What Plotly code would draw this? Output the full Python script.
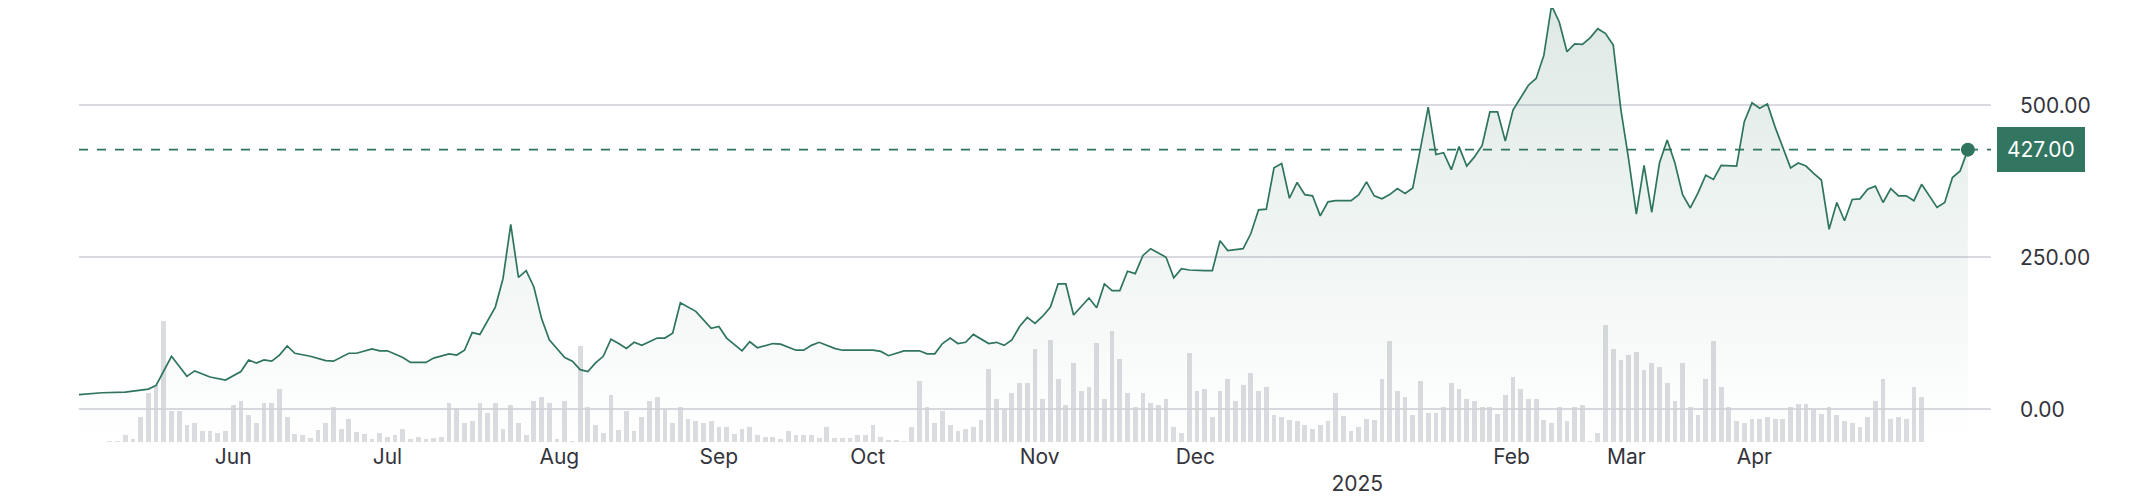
import plotly.graph_objects as go

# price line: trading-day index and close
line_day = [0, 3, 6, 9, 10, 12, 14, 15, 17, 19, 21, 22, 23, 24, 25, 26, 27, 28, 30, 32, 33, 35, 36, 38, 39, 40,
            42, 43, 45, 46, 48, 49, 50, 51, 52, 54, 55, 56, 57, 58, 59, 60, 61, 63, 64, 65, 66, 67, 68, 69, 70,
            71, 72, 73, 75, 76, 77, 78, 80, 82, 83, 84, 86, 87, 88, 90, 91, 93, 94, 95, 96, 98, 99, 101, 102,
            103, 104, 105, 107, 109, 110, 111, 112, 113, 114, 115, 116, 118, 119, 120, 121, 122, 123, 124, 125,
            126, 127, 128, 129,
            131, 132, 133, 134, 135, 136, 137, 138, 139, 141, 142, 143, 144, 146, 147, 148, 149, 151, 152, 153,
            154, 155, 156, 157, 158, 159, 160, 161, 162, 163, 165, 166, 167, 168, 169, 170, 171, 172, 173, 174,
            175, 176, 177, 178, 179, 180, 181, 182, 183, 184, 185, 186, 187, 188, 189, 190, 191, 192, 193, 194,
            195, 196, 197, 198, 199, 200, 201, 202, 203, 204, 205, 206, 207, 208, 209, 210, 211, 212, 213, 214,
            215, 216, 217, 218, 219, 220, 221, 222, 223, 224, 225, 226, 227, 228, 229, 230, 231, 232, 233, 234,
            235, 236, 237, 238, 239, 240, 241, 242, 243, 244, 245]
price = [24, 27, 28, 33, 39, 87, 54, 63, 53, 48, 62, 81, 76, 81, 79, 89, 104, 92, 87, 80, 79, 92, 92, 99, 96, 96,
         85, 77, 77, 84, 91, 89, 97, 126, 123, 168, 215, 304, 217, 228, 201, 149, 114, 85, 79, 65, 62, 76, 87, 115, 108,
         100, 110, 105, 117, 117, 125, 175, 161, 133, 136, 117, 96, 111, 101, 108, 107, 97, 97, 105, 110, 100, 97, 97, 96,
         97, 95, 88, 96, 96, 91, 91, 108, 117, 108, 110, 123, 108, 110, 105, 114, 136, 151, 141, 153,
         168, 206, 206, 155,
         183, 167, 206, 195, 195, 227, 223, 253, 264, 250, 216, 231, 229, 228, 228, 277, 261, 264, 289, 328,
         329, 397, 404, 347, 373, 353, 351, 318, 341, 343, 343, 353, 374, 351, 346, 353, 363, 355, 364, 429,
         497, 419, 422, 394, 432, 400, 415, 434, 489, 489, 441, 492, 513, 533, 544, 582, 664, 637, 588, 601,
         600, 611, 626, 618, 599, 492, 411, 321, 401, 324, 405, 443, 405, 353, 331, 356, 385, 378, 401, 400,
         400, 473, 504, 495, 502, 464, 430, 397, 405, 400, 388, 377, 296, 340, 310, 345, 346, 362, 367, 340,
         363, 351, 351, 343, 370, 351, 332, 340, 381, 392, 427]

# daily volume (relative units), first bar on day 4
volume = [3, 3, 20, 10, 75, 147, 170, 363, 93, 93, 50, 57, 33, 33, 28, 33, 110, 123, 80, 57, 117, 117, 159, 75,
          23, 20, 13, 37, 57, 105, 40, 70, 30, 25, 10, 27, 15, 20, 40, 10, 15, 10, 13, 15, 117, 103, 57, 63, 117, 87,
          117, 40, 110, 57, 20, 123, 135, 117, 10, 123, 3, 287, 105, 50, 28, 140, 35, 93, 33, 75, 123, 135, 97, 57,
          105, 70, 63, 57, 63, 45, 45, 23, 40, 45, 20, 15, 15, 10, 33, 20, 20, 20, 13, 45, 13, 13, 13, 20, 20, 50, 15,
          7, 7, 3, 45, 183, 105, 57, 93, 50, 33, 40, 45, 67, 220, 130, 97, 147, 177, 177, 280,
          130, 305, 190, 110, 237, 153, 165, 297, 130, 333, 250, 147, 105, 147, 117, 110, 130, 45, 27, 267, 153, 159,
          75, 153, 189, 123, 170, 207, 153, 165, 80, 75, 67, 63, 50, 40, 50, 63, 147, 79, 33, 45, 70, 67, 189, 303,
          153, 135, 80, 183, 87, 87, 105, 177, 159, 130, 123, 105, 105, 85, 140, 195, 159, 130, 130, 67, 57, 105, 63,
          105, 110, 3, 27, 350, 280, 245, 260, 270, 215, 237, 225, 177, 123, 237, 105, 80, 189, 303, 165, 105, 63, 57,
          70, 70, 75, 70, 70, 105, 115, 115, 100, 85, 105, 80, 63, 57, 45, 75, 123, 189, 70, 75, 70, 165, 135]
vol_day = list(range(4, 4 + len(volume)))

tick_days = [20, 40, 62.3, 83, 102.3, 124.6, 144.8, 165.8, 185.8, 200.7, 217.3]
tick_text = ["Jun", "Jul", "Aug", "Sep", "Oct", "Nov", "Dec", " <br>2025", "Feb", "Mar", "Apr"]

last_price = 427.00
green = "#2f745d"
ymin, ymax = -54, 660

fig = go.Figure()

# volume bars on the lower axis
fig.add_trace(go.Bar(x=vol_day, y=volume, yaxis="y", marker_color="rgba(205,208,214,0.75)",
                     marker_line_width=0, width=0.62, hoverinfo="skip"))

# fill under price line down to the plot floor
fig.add_trace(go.Scatter(x=line_day, y=[ymin] * len(line_day), yaxis="y2", mode="lines",
                         line=dict(width=0), hoverinfo="skip"))
fig.add_trace(go.Scatter(x=line_day, y=price, yaxis="y2", mode="lines", fill="tonexty",
                         fillgradient=dict(type="vertical",
                                           colorscale=[[0, "rgba(47,116,93,0.0)"], [1, "rgba(47,116,93,0.16)"]]),
                         line=dict(color=green, width=1.7), cliponaxis=False))
fig.add_trace(go.Scatter(x=[line_day[-1]], y=[price[-1]], yaxis="y2", mode="markers",
                         marker=dict(color=green, size=14), cliponaxis=False))

fig.add_shape(type="line", xref="paper", yref="y2", x0=0, x1=1, y0=last_price, y1=last_price,
              line=dict(color=green, width=1.7, dash="dash"))
fig.add_annotation(xref="paper", yref="y2", x=1.003, y=last_price, xanchor="left",
                   text=f"{last_price:.2f}", showarrow=False, bgcolor="#327560", bordercolor="#327560",
                   borderpad=9, font=dict(color="white", size=21))
# bottom of a cut-off tooltip at the top
fig.add_shape(type="rect", xref="paper", yref="paper", x0=0.2045, x1=0.272, y0=1.0, y1=1.06,
              fillcolor="#327560", line=dict(width=0))

fig.update_layout(
    width=2129, height=503, showlegend=False, bargap=0,
    paper_bgcolor="white", plot_bgcolor="white",
    margin=dict(l=71, r=146, t=0, b=69),
    font=dict(family="Inter, Open Sans, sans-serif", size=21, color="#34343c"),
    xaxis=dict(range=[0, 248], tickvals=tick_days, ticktext=tick_text, showgrid=False,
               zeroline=False, showline=False, ticks="", tickangle=0),
    yaxis=dict(range=[0, 1302], visible=False),
    yaxis2=dict(overlaying="y", side="right", range=[ymin, ymax], tickvals=[0, 250, 500],
                ticktext=["0.00", "250.00", "500.00"], showgrid=True, gridcolor="#d9d9df",
                gridwidth=1.5, zeroline=False, ticks="", ticklabelstandoff=28),
)

fig.write_html("out.html")
